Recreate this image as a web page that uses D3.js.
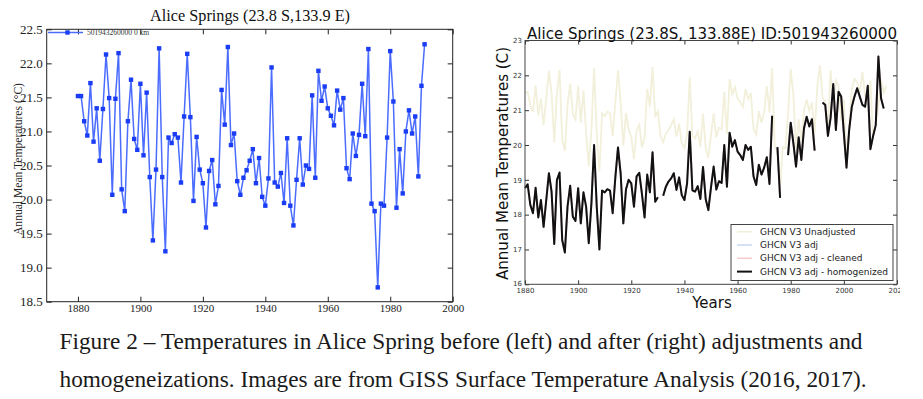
<!DOCTYPE html>
<html>
<head>
<meta charset="utf-8">
<script src="https://cdnjs.cloudflare.com/ajax/libs/d3/7.8.5/d3.min.js"></script>
<style>
  body { margin: 0; background: #fff; }
  svg { display: block; }
</style>
</head>
<body>
<script>
  // DATA
  // left chart: GISS station record 501943260000, first year 1880
  var rawStart = 1880;
  var rawTemps = [
    21.52, 21.52, 21.15, 20.94, 21.71, 20.85, 21.34, 20.57, 21.33, 22.13,
    21.49, 20.07, 21.48, 22.15, 20.15, 19.83, 21.15, 21.76, 20.89, 20.73,
    21.70, 20.65, 21.57, 20.33, 19.40, 20.44, 22.22, 20.33, 19.24, 20.91,
    20.83, 20.96, 20.91, 20.25, 21.22, 22.14, 21.21, 19.98, 20.92, 20.44,
    20.24, 19.59, 20.42, 20.58, 19.93, 20.20, 21.61, 21.10, 22.24, 20.80,
    20.97, 20.27, 20.07, 20.32, 20.43, 20.57, 20.74, 20.24, 20.61, 20.04,
    19.91, 20.31, 21.94, 20.25, 20.19, 20.39, 19.95, 20.90, 19.91, 19.62,
    20.29, 20.90, 20.22, 20.50, 20.45, 21.53, 20.32, 21.89, 21.45, 21.66,
    21.34, 21.23, 21.09, 21.60, 21.32, 21.49, 20.46, 20.30, 20.97, 20.64,
    20.95, 21.70, 20.93, 22.21, 19.94, 19.83, 18.71, 19.94, 19.91, 20.91,
    22.18, 21.44, 19.88, 20.74, 20.09, 21.00, 21.31, 20.97, 21.22, 20.34,
    21.67, 22.28
  ];
  // right chart: unadjusted continues after 1991
  var unadjLate = [
    21.35, 21.25, 20.55, 22.15, 21.00, 21.85, 21.70, 20.70, 21.30, 19.60,
    20.60, 21.60, 21.90, 21.80, 21.50, 22.10, 21.40, 21.30, 21.85, 20.20,
    20.60, 21.10, 21.90, 21.50, 21.70
  ];
  // right chart: adjusted + homogenized, 1880-2015, null = gap
  var homStart = 1880;
  var homTemps = [
    18.76, 18.87, 18.28, 18.04, 18.77, 17.92, 18.42, 17.65, 18.42, 19.19,
    18.66, 17.16, 18.99, 19.21, 17.27, 16.91, 18.23, 18.83, 17.94, 17.82,
    18.76, 17.75, 18.64, 18.23, 17.18, 18.33, 20.00, 18.23, 17.00, 18.69,
    18.64, 18.73, 18.69, 18.04, 19.07, 19.93, 19.18, 17.75, 18.72, 19.00,
    18.90, 18.23, 19.10, 19.20, 18.60, 17.92, 19.15, 18.64, 19.79, 18.37,
    18.50, null, 18.54, 18.80, 18.95, 19.04, 19.19, 18.71, 19.07, 18.56,
    18.42, 18.90, 20.38, 18.70, 18.66, 18.82, 18.45, 19.37, 18.45, 18.13,
    18.78, 19.38, 18.72, 18.96, 18.91, 20.00, 18.80, 20.35, 19.95, 20.14,
    19.81, 19.71, 19.57, 20.00, 19.86, 19.95, 19.10, 18.85, 19.43, 19.15,
    19.35, 19.65, 18.88, 20.84, null, 19.94, 18.48, null, null, 19.71,
    20.64, 20.05, 19.38, 20.22, 19.57, 20.48, 20.81, 20.53, 20.74, 19.84,
    null, null, 21.22, 21.15, 20.26, 20.77, 21.75, 20.43, 21.53, 21.39,
    20.34, 19.35, 20.43, 21.10, 21.39, 21.63, 21.39, 21.15, 21.10, 21.70,
    19.88, 20.26, 20.57, 22.54, 21.34, 21.05
  ];

  // tick labels
  var leftXTicks = [1880, 1900, 1920, 1940, 1960, 1980, 2000];
  var leftYTicks = [18.5, 19.0, 19.5, 20.0, 20.5, 21.0, 21.5, 22.0, 22.5];
  var rightXTicks = [1880, 1900, 1920, 1940, 1960, 1980, 2000, 2020];
  var rightYTicks = [16, 17, 18, 19, 20, 21, 22, 23];

  var legendNames = ["GHCN V3 Unadjusted", "GHCN V3 adj", "GHCN V3 adj - cleaned", "GHCN V3 adj - homogenized"];
  var legendColors = ["#f2f0da", "#c9d7f5", "#f6c9c9", "#111111"];

  // turn arrays into {year, v}
  var toPoints = function(start, arr) {
    return arr.map(function(v, i) { return { year: start + i, v: v }; });
  };
  var rawPoints = toPoints(rawStart, rawTemps);
  var unadjPoints = rawPoints.concat(toPoints(rawStart + rawTemps.length, unadjLate));
  var homPoints = toPoints(homStart, homTemps);

  var svg = d3.select("body").append("svg")
    .attr("width", 923).attr("height", 399);
  svg.append("rect").attr("width", 923).attr("height", 399).attr("fill", "#fff");

  var serif = "'Liberation Serif', 'Times New Roman', Times, serif";
  var sans = "'DejaVu Sans', sans-serif";

  // LEFT CHART
  var L = { left: 46.7, right: 452.7, top: 29.3, bottom: 301.7 };
  var xL = d3.scaleLinear().domain([1870, 2000]).range([L.left, L.right]);
  var yL = d3.scaleLinear().domain([18.5, 22.5]).range([L.bottom, L.top]);
  var gl = svg.append("g");

  var styleAxis = function(g, font, size, color) {
    g.attr("font-family", null);
    g.select(".domain").remove();
    g.selectAll("line").attr("stroke", color);
    g.selectAll("text").style("font-family", font).attr("font-size", size).attr("fill", color);
  };

  gl.append("g").attr("transform", "translate(0," + L.bottom + ")")
    .call(d3.axisBottom(xL).tickValues(leftXTicks).tickFormat(d3.format("d")).tickSizeInner(-5).tickSizeOuter(0).tickPadding(3))
    .call(styleAxis, serif, 11, "#222");
  gl.append("g").attr("transform", "translate(0," + L.top + ")")
    .call(d3.axisTop(xL).tickValues(leftXTicks).tickFormat("").tickSizeInner(-5).tickSizeOuter(0))
    .call(styleAxis, serif, 11, "#222");
  gl.append("g").attr("transform", "translate(" + L.left + ",0)")
    .call(d3.axisLeft(yL).tickValues(leftYTicks).tickFormat(d3.format(".1f")).tickSizeInner(-5).tickSizeOuter(0).tickPadding(4))
    .call(styleAxis, serif, 13, "#222");
  gl.append("g").attr("transform", "translate(" + L.right + ",0)")
    .call(d3.axisRight(yL).tickValues(leftYTicks).tickFormat("").tickSizeInner(-5).tickSizeOuter(0))
    .call(styleAxis, serif, 13, "#222");

  gl.append("rect")
    .attr("x", L.left).attr("y", L.top)
    .attr("width", L.right - L.left).attr("height", L.bottom - L.top)
    .attr("fill", "none").attr("stroke", "#222").attr("stroke-width", 1);

  var lineL = d3.line().x(function(d) { return xL(d.year); }).y(function(d) { return yL(d.v); });
  gl.append("path").datum(rawPoints)
    .attr("d", lineL).attr("fill", "none")
    .attr("stroke", "#4a6cff").attr("stroke-width", 1.5);
  gl.selectAll("rect.mk").data(rawPoints).enter().append("rect")
    .attr("class", "mk")
    .attr("x", function(d) { return xL(d.year) - 2.2; })
    .attr("y", function(d) { return yL(d.v) - 2.2; })
    .attr("width", 4.4).attr("height", 4.4)
    .attr("fill", "#1a3cf5");

  // legend
  gl.append("line").attr("x1", 48).attr("x2", 83).attr("y1", 32.5).attr("y2", 32.5)
    .attr("stroke", "#4a6cff").attr("stroke-width", 1.5);
  gl.append("rect").attr("x", 65.3).attr("y", 30.3).attr("width", 4.4).attr("height", 4.4).attr("fill", "#1a3cf5");
  gl.append("text").attr("x", 87).attr("y", 35)
    .style("font-family", serif).attr("font-size", 7.5).attr("fill", "#333")
    .text("501943260000  0 km");

  gl.append("text").attr("x", 250).attr("y", 20.7).attr("text-anchor", "middle")
    .style("font-family", serif).attr("font-size", 16.5).attr("fill", "#111")
    .attr("textLength", 200).attr("lengthAdjust", "spacingAndGlyphs")
    .text("Alice Springs (23.8 S,133.9 E)");
  gl.append("text").attr("transform", "translate(21.5,159) rotate(-90)").attr("text-anchor", "middle")
    .style("font-family", serif).attr("font-size", 11.5).attr("fill", "#222")
    .attr("textLength", 152).attr("lengthAdjust", "spacingAndGlyphs")
    .text("Annual Mean Temperatures (°C)");

  // RIGHT CHART
  var R = { left: 525, right: 897, top: 40.5, bottom: 284.3 };
  var xR = d3.scaleLinear().domain([1880, 2020]).range([R.left, R.right]);
  var yR = d3.scaleLinear().domain([16, 23]).range([R.bottom, R.top]);
  svg.append("clipPath").attr("id", "rclip").append("rect")
    .attr("x", 470).attr("y", 0).attr("width", 430).attr("height", 399);
  var gr = svg.append("g").attr("clip-path", "url(#rclip)");

  gr.append("g").attr("transform", "translate(0," + R.bottom + ")")
    .call(d3.axisBottom(xR).tickValues(rightXTicks).tickFormat(d3.format("d")).tickSizeInner(-4).tickSizeOuter(0).tickPadding(3.5))
    .call(styleAxis, sans, 7, "#333");
  gr.append("g").attr("transform", "translate(0," + R.top + ")")
    .call(d3.axisTop(xR).tickValues(rightXTicks).tickFormat("").tickSizeInner(-4).tickSizeOuter(0))
    .call(styleAxis, sans, 7, "#333");
  gr.append("g").attr("transform", "translate(" + R.left + ",0)")
    .call(d3.axisLeft(yR).tickValues(rightYTicks).tickFormat(d3.format("d")).tickSizeInner(-4).tickSizeOuter(0).tickPadding(3))
    .call(styleAxis, sans, 7, "#333");
  gr.append("g").attr("transform", "translate(" + R.right + ",0)")
    .call(d3.axisRight(yR).tickValues(rightYTicks).tickFormat("").tickSizeInner(-4).tickSizeOuter(0))
    .call(styleAxis, sans, 7, "#333");
  // lift the lowest y label a little off the x labels
  gr.selectAll("text").filter(function() { return d3.select(this).text() == "16"; })
    .attr("dy", "0.1em");

  var lineR = d3.line()
    .defined(function(d) { return d.v != null; })
    .x(function(d) { return xR(d.year); }).y(function(d) { return yR(d.v); });

  gr.append("path").datum(unadjPoints).attr("d", lineR).attr("fill", "none")
    .attr("stroke", legendColors[0]).attr("stroke-width", 1.8);
  // adj and cleaned lie under the homogenized line
  [1, 2, 3].forEach(function(k) {
    gr.append("path").datum(homPoints).attr("d", lineR).attr("fill", "none")
      .attr("stroke", legendColors[k]).attr("stroke-width", k == 3 ? 2 : 1.8)
      .attr("stroke-linejoin", "round");
  });

  gr.append("rect")
    .attr("x", R.left).attr("y", R.top)
    .attr("width", R.right - R.left).attr("height", R.bottom - R.top)
    .attr("fill", "none").attr("stroke", "#444").attr("stroke-width", 1);

  // legend box
  var lg = gr.append("g").attr("transform", "translate(731,224.5)");
  lg.append("rect").attr("width", 162).attr("height", 56)
    .attr("fill", "#fff").attr("stroke", "#444").attr("stroke-width", 1);
  lg.selectAll("g.item").data(legendNames).enter().append("g")
    .attr("class", "item")
    .attr("transform", function(d, i) { return "translate(0," + (7.2 + i * 13.3) + ")"; })
    .each(function(d, i) {
      var it = d3.select(this);
      it.append("line").attr("x1", 6).attr("x2", 21)
        .attr("stroke", legendColors[i]).attr("stroke-width", i == 3 ? 2 : 1.5);
      it.append("text").attr("x", 29).attr("dy", "0.35em")
        .style("font-family", sans).attr("font-size", 9).attr("fill", "#222")
        .text(d);
    });

  gr.append("text").attr("x", 527).attr("y", 38.5)
    .style("font-family", sans).attr("font-size", 15.5).attr("fill", "#111")
    .attr("textLength", 370).attr("lengthAdjust", "spacingAndGlyphs")
    .text("Alice Springs (23.8S, 133.88E) ID:501943260000");
  gr.append("text").attr("transform", "translate(507.5,163.5) rotate(-90)").attr("text-anchor", "middle")
    .style("font-family", sans).attr("font-size", 15).attr("fill", "#111")
    .attr("textLength", 233).attr("lengthAdjust", "spacingAndGlyphs")
    .text("Annual Mean Temperatures (C)");
  gr.append("text").attr("x", 712).attr("y", 308).attr("text-anchor", "middle")
    .style("font-family", sans).attr("font-size", 15).attr("fill", "#111")
    .text("Years");

  // CAPTION
  var caption = [
    "Figure 2 \u2013 Temperatures in Alice Spring before (left) and after (right) adjustments and",
    "homogeneizations. Images are from GISS Surface Temperature Analysis (2016, 2017)."
  ];
  var captionWidths = [803, 807];
  svg.selectAll("text.cap").data(caption).enter().append("text")
    .attr("class", "cap")
    .attr("x", 59.5)
    .attr("y", function(d, i) { return 349.3 + i * 37.5; })
    .style("font-family", serif).attr("font-size", 23).attr("fill", "#1a1a1a")
    .attr("textLength", function(d, i) { return captionWidths[i]; })
    .attr("lengthAdjust", "spacingAndGlyphs")
    .text(function(d) { return d; });
</script>
</body>
</html>
